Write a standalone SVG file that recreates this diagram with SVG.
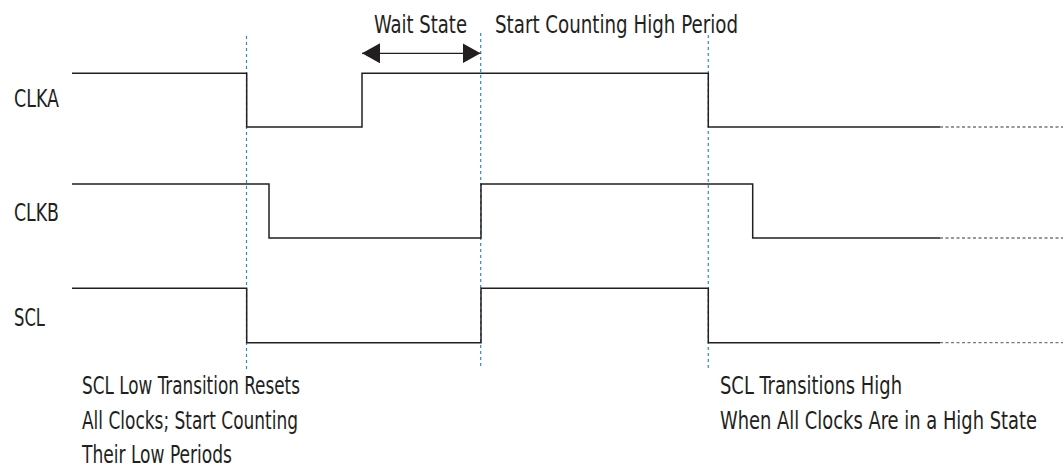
<svg xmlns="http://www.w3.org/2000/svg" width="1063" height="471" viewBox="0 0 1063 471">
<style>
.sig{fill:none;stroke:#231f20;stroke-width:1.5;stroke-linejoin:miter}
.tail{fill:none;stroke:#777;stroke-width:1.3;stroke-dasharray:3 2.5}
.guide{fill:none;stroke:#2a8dc5;stroke-width:1.2;stroke-dasharray:3 3}
.arr{fill:none;stroke:#231f20;stroke-width:1.3}
text{font-family:"DejaVu Sans","Liberation Sans",sans-serif;font-stretch:condensed;font-size:25px;fill:#231f20}
</style>
<defs>
<marker id="ah" viewBox="0 0 18 20" refX="18" refY="10" markerWidth="18" markerHeight="20" markerUnits="userSpaceOnUse" orient="auto-start-reverse">
<path d="M0,0 L18,10 L0,20 Z" fill="#231f20"/>
</marker>
</defs>
<g id="guides">
<line class="guide" x1="246.5" y1="36" x2="246.5" y2="369"/>
<line class="guide" x1="480.7" y1="33" x2="480.7" y2="369"/>
<line class="guide" x1="708.3" y1="35" x2="708.3" y2="369"/>
</g>
<g id="CLKA">
<text x="14" y="107" textLength="45" lengthAdjust="spacingAndGlyphs">CLKA</text>
<polyline class="sig" points="72,73.3 246.7,73.3 246.7,127 362,127 362,73.3 708.3,73.3 708.3,127 940,127"/>
<line class="tail" x1="940" y1="127" x2="1063" y2="127"/>
</g>
<g id="CLKB">
<text x="14" y="221" textLength="45" lengthAdjust="spacingAndGlyphs">CLKB</text>
<polyline class="sig" points="72,184 269,184 269,238 481,238 481,184 752.7,184 752.7,238 940,238"/>
<line class="tail" x1="940" y1="238" x2="1063" y2="238"/>
</g>
<g id="SCL">
<text x="14" y="326" textLength="31" lengthAdjust="spacingAndGlyphs">SCL</text>
<polyline class="sig" points="72,288.3 246.7,288.3 246.7,342.7 481,342.7 481,288.3 708.3,288.3 708.3,342.7 940,342.7"/>
<line class="tail" x1="940" y1="342.7" x2="1063" y2="342.7"/>
</g>
<g id="connectors">
<line class="arr" x1="362" y1="53.3" x2="480.5" y2="53.3" marker-start="url(#ah)" marker-end="url(#ah)"/>
</g>
<g id="labels">
<text id="wait" x="374" y="33" textLength="93" lengthAdjust="spacingAndGlyphs">Wait State</text>
<text id="start-high" x="495" y="33" textLength="243" lengthAdjust="spacingAndGlyphs">Start Counting High Period</text>
<g id="note-low">
<text x="82" y="394" textLength="218" lengthAdjust="spacingAndGlyphs">SCL Low Transition Resets</text>
<text x="82" y="429" textLength="216" lengthAdjust="spacingAndGlyphs">All Clocks; Start Counting</text>
<text x="82" y="463" textLength="150" lengthAdjust="spacingAndGlyphs">Their Low Periods</text>
</g>
<g id="note-high">
<text x="720" y="394" textLength="182" lengthAdjust="spacingAndGlyphs">SCL Transitions High</text>
<text x="720" y="429" textLength="317" lengthAdjust="spacingAndGlyphs">When All Clocks Are in a High State</text>
</g>
</g>
</svg>
